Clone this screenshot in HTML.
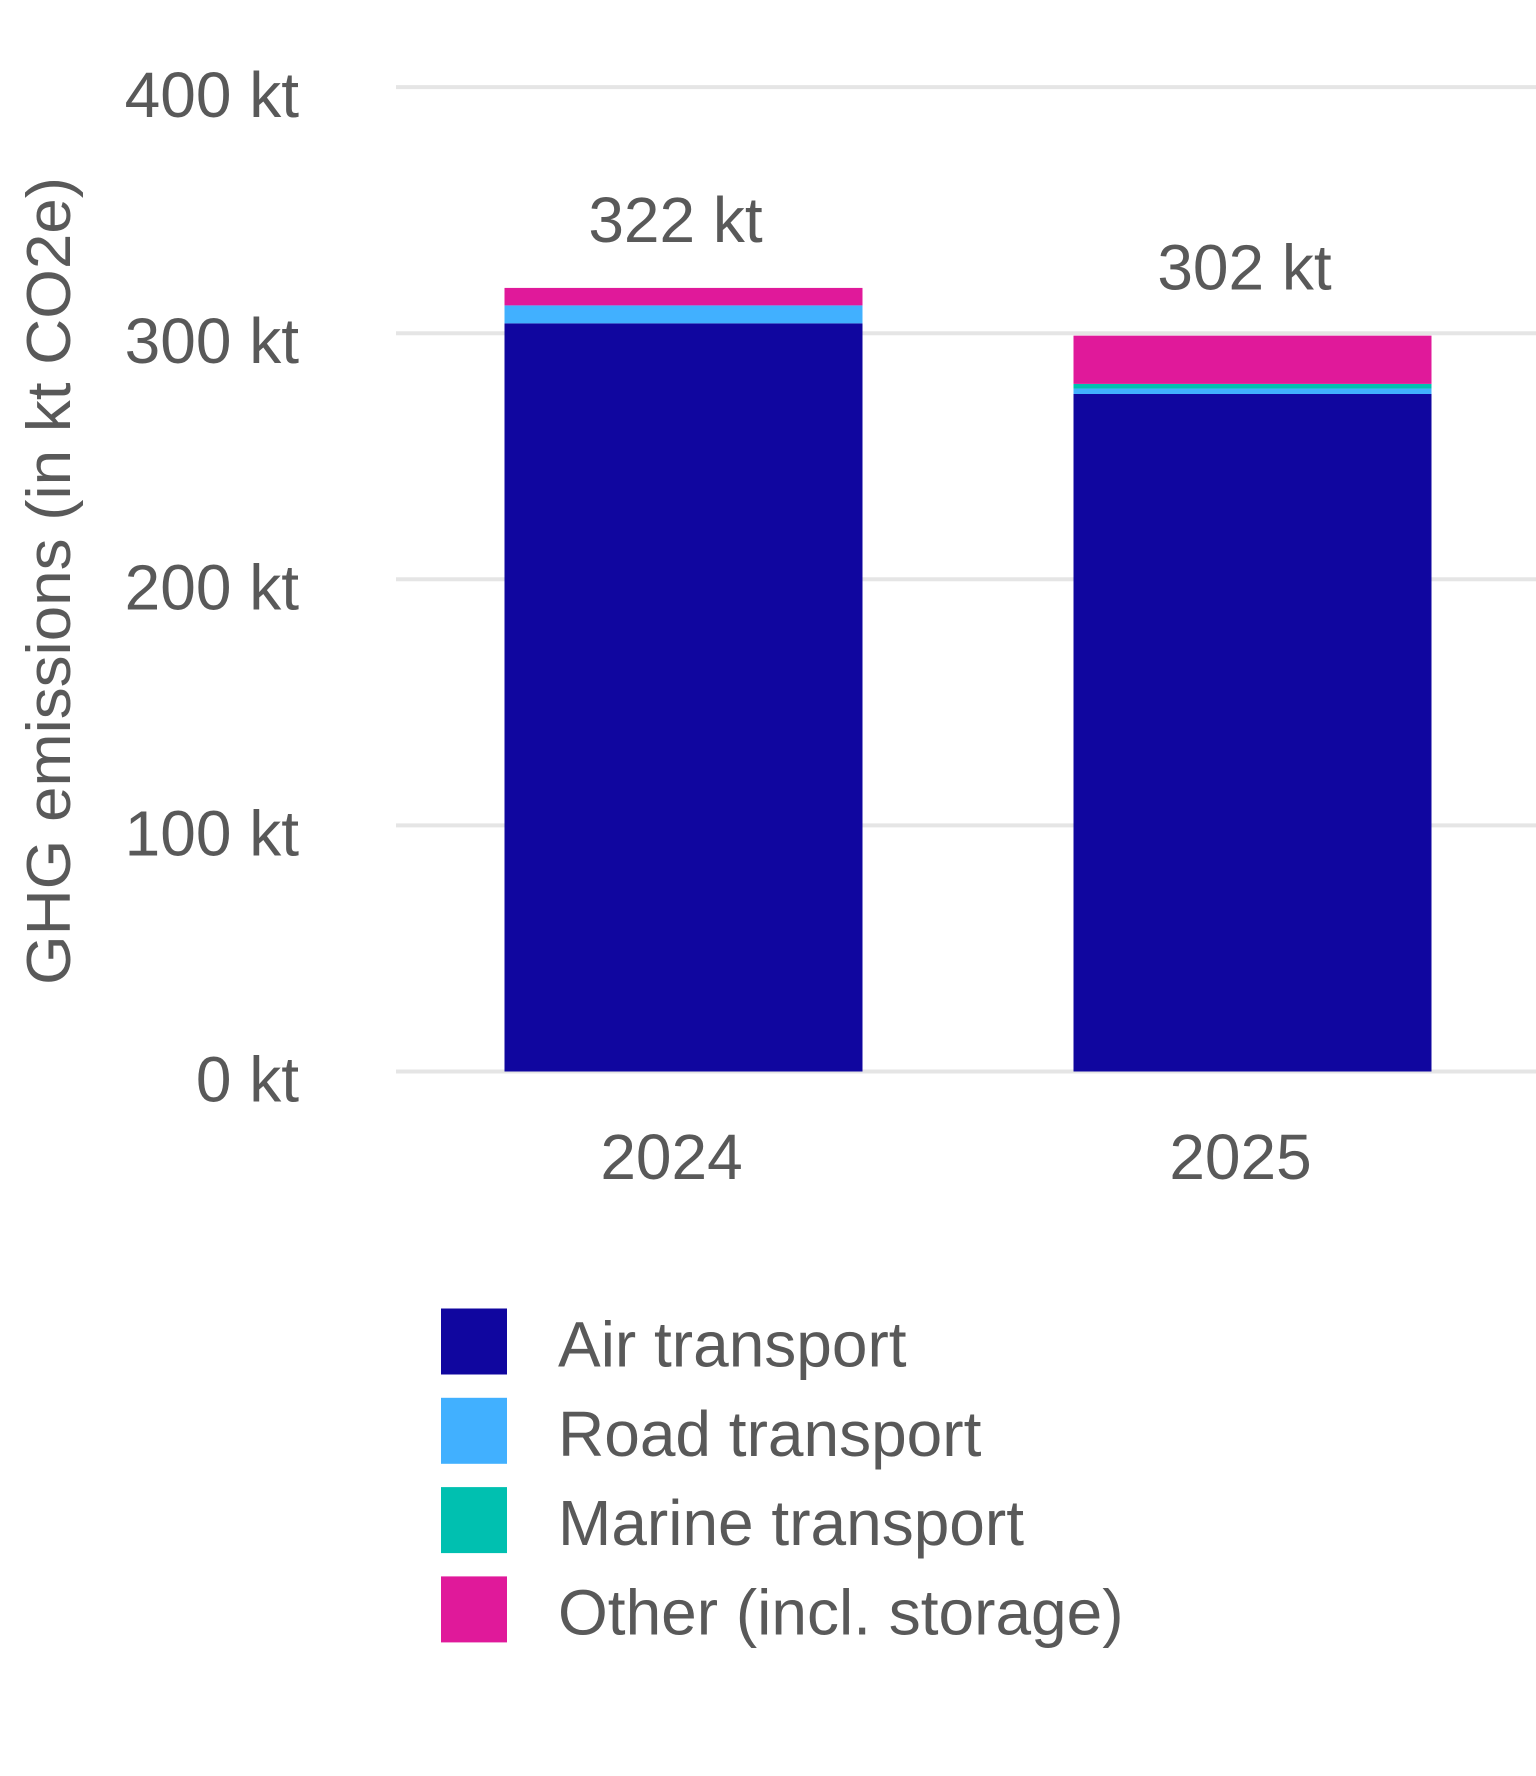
<!DOCTYPE html>
<html><head><meta charset="utf-8"><style>
html,body{margin:0;padding:0;background:#fff}
svg{display:block}
text{font-family:"Liberation Sans",Arial,sans-serif;fill:#595959}
</style></head><body>
<svg id="chart" width="1536" height="1776" viewBox="0 0 1536 1776" xmlns="http://www.w3.org/2000/svg">
<g id="grid"></g>
<g id="yticks"></g>
<text transform="translate(70,581) rotate(-90)" text-anchor="middle" font-size="62" textLength="808" lengthAdjust="spacingAndGlyphs">GHG emissions (in kt CO2e)</text>
<g id="bars"></g>
<g id="xticks"></g>
<g id="legend"></g>
</svg>
<script>
const categories = ["2024", "2025"];
const seriesNames = ["Air transport", "Road transport", "Marine transport", "Other (incl. storage)"];
const airValues = [304, 275.3];
const roadValues = [7.3, 2.2];
const marineValues = [0, 1.9];
const otherValues = [7.1, 19.6];
const totalLabels = ["322 kt", "302 kt"];
const yTicks = [0, 100, 200, 300, 400];
const yTickLabels = ["0 kt", "100 kt", "200 kt", "300 kt", "400 kt"];

const colors = ["#10069f", "#41b0ff", "#00c0b0", "#e0199a"];
const NS = "http://www.w3.org/2000/svg";
const y0 = 1071.5, pxPerUnit = 2.461;
function yScale(v){ return y0 - v * pxPerUnit; }
const barW = 358, barX = [504.5, 1073.5];
function xScale(i){ return barX[i]; }
function mk(tag, attrs, parent){ const e=document.createElementNS(NS,tag); for(const k in attrs) e.setAttribute(k,attrs[k]); parent.appendChild(e); return e; }

const grid=document.getElementById('grid'), yt=document.getElementById('yticks');
yTicks.forEach((t,i)=>{
  const l=mk('line',{x1:396,x2:1536,y1:yScale(t),y2:yScale(t),stroke:'#e5e5e5','stroke-width':4},grid);
  
  
  const tx=mk('text',{x:299,y:yScale(t)+30,'text-anchor':'end','font-size':64},yt);
  tx.textContent=yTickLabels[i];
  
  
});

const bars=document.getElementById('bars'), xt=document.getElementById('xticks');
const series=[airValues, roadValues, marineValues, otherValues];
categories.forEach((c,i)=>{
  let base=0;
  series.forEach((s,k)=>{
    const v=s[i]; if(v<=0) return;
    const r=mk('rect',{x:xScale(i),y:yScale(base+v),width:barW,height:v*pxPerUnit,fill:colors[k]},bars);
    
    
    base+=v;
  });
  const lab=mk('text',{x:xScale(i)+barW/2-8,y:yScale(base)-46,'text-anchor':'middle','font-size':64},bars);
  lab.textContent=totalLabels[i];
  
  
  const xl=mk('text',{x:xScale(i)+barW/2-12,y:1179,'text-anchor':'middle','font-size':64},xt);
  xl.textContent=c;
  
  
});

const lg=document.getElementById('legend');
seriesNames.forEach((n,k)=>{
  const yy=1308.5+k*89.3;
  const sq=mk('rect',{x:441,y:yy,width:66,height:66,fill:colors[k]},lg);
  
  
  const t=mk('text',{x:558,y:yy+58,'font-size':64},lg);
  t.textContent=n;
  
  
});
</script>
</body></html>
